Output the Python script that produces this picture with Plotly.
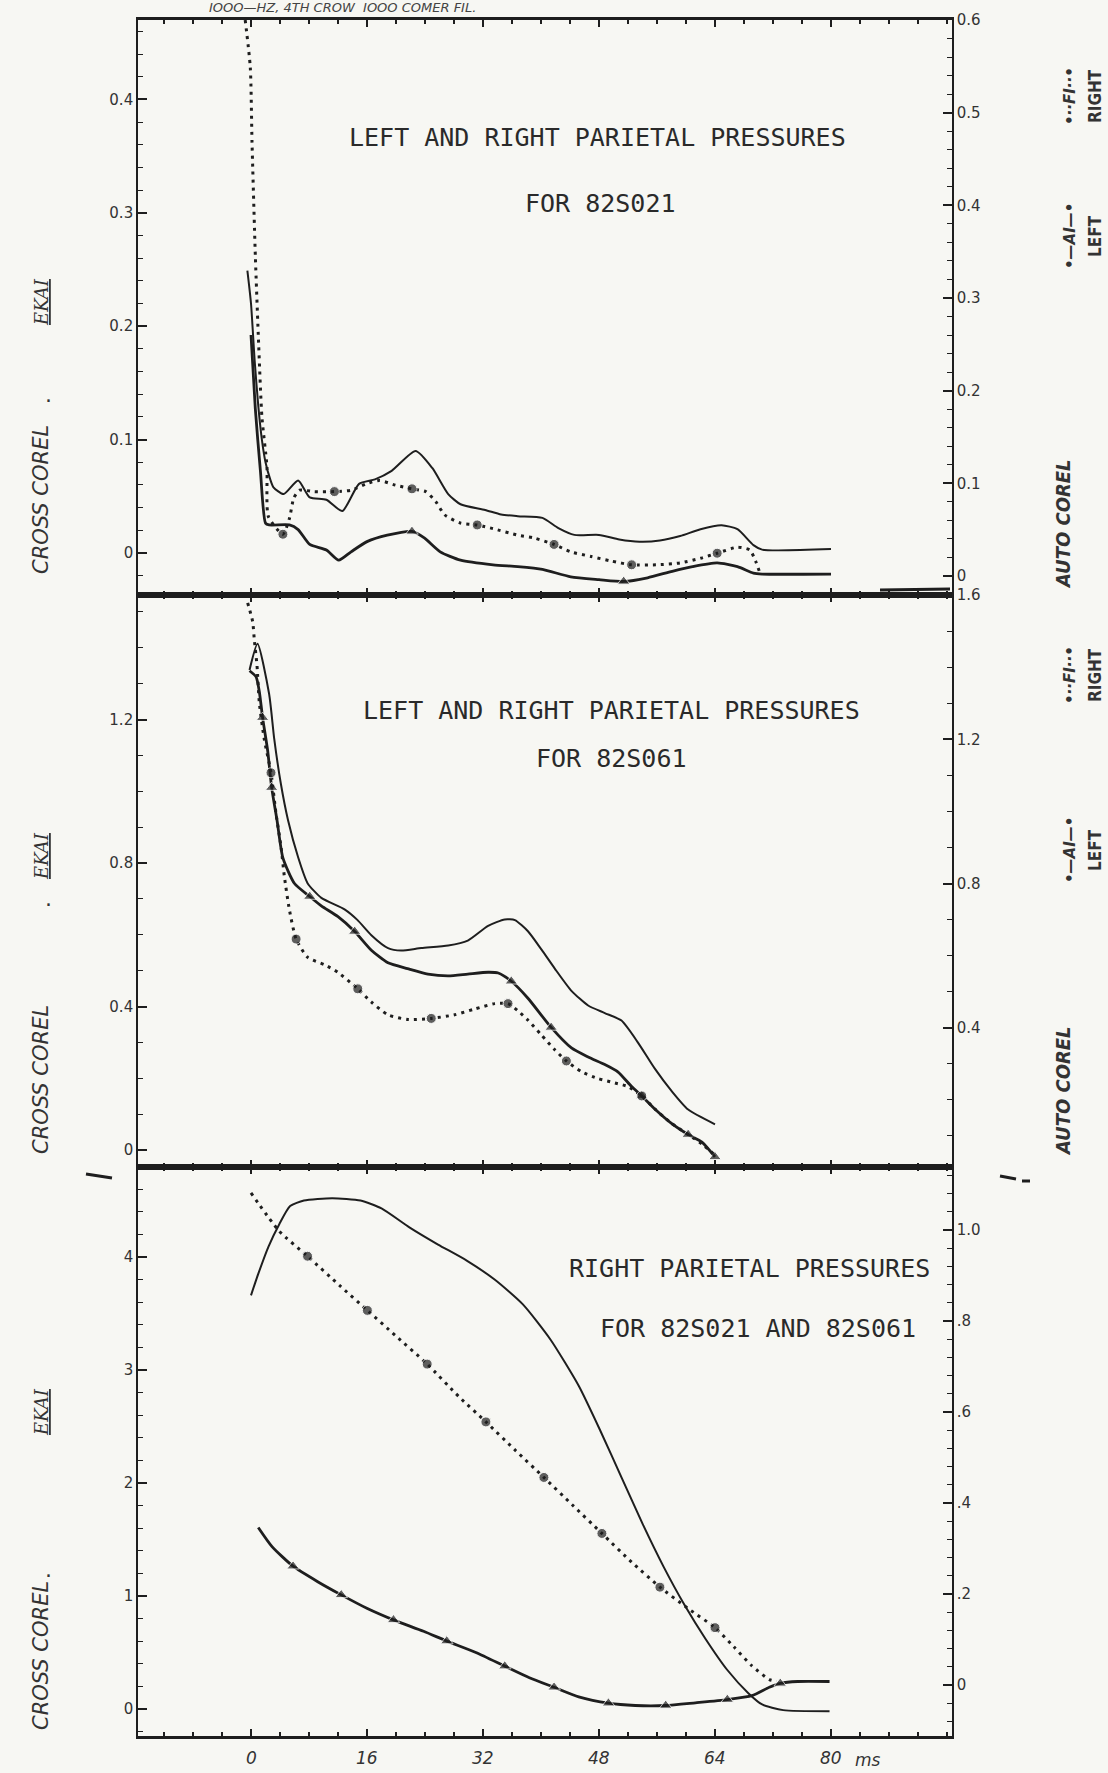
import plotly.graph_objects as go

# ---------------- data (time lag in ms) ----------------
# Panel 1 : 82S021
P1_CROSS_T = [-0.5, 0.0, 0.5, 1.0, 1.5, 2.0, 2.6, 3.1, 4.5, 6.5, 8.1, 10.4, 12.6, 14.9, 17.1, 19.4, 22.7, 25.0,
              27.2, 28.9, 32.3, 34.5, 36.8, 40.2, 42.4, 44.6, 48.0, 50.8, 53.6, 56.4, 59.2, 62.0, 64.9, 67.1,
              69.3, 70.5, 80.0]
P1_CROSS_V = [0.249, 0.22, 0.17, 0.13, 0.10, 0.08, 0.066, 0.058, 0.052, 0.064, 0.049, 0.047, 0.037, 0.061, 0.065,
              0.0725, 0.090, 0.075, 0.052, 0.043, 0.038, 0.034, 0.0325, 0.031, 0.022, 0.016, 0.016, 0.012, 0.010,
              0.011, 0.015, 0.021, 0.0245, 0.021, 0.007, 0.003, 0.0035]
P1_LEFT_T = [0.0, 0.6, 1.3, 2.0, 2.5, 5.3, 6.5, 8.1, 10.4, 12.1, 13.8, 16.0, 18.8, 22.2, 23.9, 26.1, 28.9, 33.4,
             36.8, 40.2, 44.1, 48.0, 51.4, 54.7, 58.1, 60.9, 64.3, 67.1, 69.3, 70.5, 80.0]
P1_LEFT_V = [0.26, 0.18, 0.113, 0.057, 0.055, 0.055, 0.050, 0.034, 0.028, 0.017, 0.026, 0.037, 0.044, 0.048, 0.041,
             0.026, 0.017, 0.012, 0.010, 0.007, -0.001, -0.004, -0.006, -0.002, 0.005, 0.010, 0.014, 0.010, 0.003,
             0.002, 0.002]
P1_RIGHT_T = [-0.8, -0.1, 0.14, 0.6, 1.06, 1.5, 2.2, 2.4, 4.4, 5.3, 5.9, 6.7, 8.7, 11.5, 13.8, 16.0, 17.7, 19.9,
              22.2, 24.1, 25.5, 26.7, 28.9, 31.2, 33.4, 36.8, 39.0, 41.8, 44.1, 46.9, 49.7, 52.5, 55.9, 59.2, 62.0,
              64.3, 67.1, 68.8, 69.6, 70.2]
P1_RIGHT_V = [0.60, 0.549, 0.468, 0.345, 0.249, 0.172, 0.118, 0.064, 0.045, 0.062, 0.084, 0.0925, 0.091, 0.091,
              0.0925, 0.0997, 0.103, 0.098, 0.094, 0.091, 0.080, 0.066, 0.057, 0.055, 0.051, 0.044, 0.041, 0.034,
              0.026, 0.021, 0.016, 0.012, 0.012, 0.014, 0.019, 0.0245, 0.031, 0.028, 0.016, 0.003]

# Panel 2 : 82S061
P2_CROSS_T = [-0.2, 0.9, 2.5, 3.2, 4.1, 5.1, 6.5, 7.8, 9.7, 12.9, 14.7, 16.6, 18.9, 20.7, 23.5, 27.2, 29.9, 32.7,
              35.0, 36.4, 38.2, 40.1, 41.9, 44.2, 46.5, 48.8, 51.1, 53.4, 55.7, 58.0, 60.3, 64.0]
P2_CROSS_V = [1.338, 1.411, 1.271, 1.147, 1.023, 0.920, 0.816, 0.744, 0.703, 0.671, 0.641, 0.599, 0.563, 0.556,
              0.563, 0.570, 0.584, 0.625, 0.643, 0.641, 0.610, 0.558, 0.506, 0.444, 0.403, 0.382, 0.361, 0.299,
              0.227, 0.165, 0.113, 0.072]
P2_LEFT_T = [-0.2, 0.7, 1.15, 1.6, 2.3, 2.85, 3.6, 4.4, 6.0, 8.1, 9.7, 12.0, 14.3, 16.6, 18.9, 21.6, 24.4, 27.2,
             29.9, 32.7, 34.1, 35.9, 38.2, 41.4, 44.2, 46.5, 48.8, 50.6, 52.5, 53.9, 55.7, 58.0, 60.3, 62.2, 64.0]
P2_LEFT_V = [1.39, 1.373, 1.332, 1.260, 1.168, 1.066, 0.974, 0.871, 0.800, 0.764, 0.738, 0.708, 0.667, 0.615,
             0.580, 0.564, 0.549, 0.544, 0.549, 0.554, 0.552, 0.529, 0.482, 0.401, 0.344, 0.319, 0.298, 0.278,
             0.237, 0.211, 0.175, 0.135, 0.104, 0.083, 0.042]
P2_RIGHT_T = [-0.46, 0.23, 0.46, 0.83, 1.15, 1.84, 2.76, 3.45, 4.14, 4.6, 5.29, 6.22, 7.83, 10.13, 11.97, 14.73,
              16.57, 18.88, 21.64, 24.86, 28.08, 30.85, 33.61, 35.45, 36.83, 38.21, 40.06, 41.9, 43.5, 45.6, 47.9,
              50.2, 52.0, 53.9, 55.7, 58.0, 60.3, 62.2, 64.0]
P2_RIGHT_V = [1.578, 1.526, 1.475, 1.404, 1.301, 1.199, 1.107, 0.994, 0.902, 0.820, 0.728, 0.646, 0.595, 0.575,
              0.554, 0.508, 0.472, 0.436, 0.423, 0.426, 0.436, 0.452, 0.467, 0.467, 0.447, 0.421, 0.380, 0.339,
              0.308, 0.278, 0.259, 0.247, 0.237, 0.211, 0.175, 0.135, 0.104, 0.078, 0.047]

# Panel 3 : right parietal, 82S021 and 82S061
P3_CROSS_T = [0.0, 1.0, 2.4, 3.9, 5.4, 7.3, 11.2, 15.1, 18.0, 21.9, 25.8, 29.7, 33.6, 37.5, 41.3, 45.2, 48.2,
              51.1, 54.0, 56.9, 59.8, 62.7, 65.7, 68.6, 70.5, 73.4, 79.8]
P3_CROSS_V = [3.66, 3.85, 4.09, 4.29, 4.45, 4.50, 4.52, 4.50, 4.43, 4.26, 4.11, 3.97, 3.80, 3.58, 3.27, 2.86,
              2.46, 2.05, 1.64, 1.26, 0.92, 0.62, 0.345, 0.14, 0.04, -0.01, -0.02]
P3_DOT_T = [0.0, 3.9, 7.8, 12.2, 16.05, 19.9, 24.3, 28.7, 32.4, 36.5, 40.4, 44.3, 48.4, 52.5, 56.4, 60.3, 64.0,
            66.6, 69.1, 71.5, 72.5]
P3_DOT_V = [1.081, 0.997, 0.942, 0.878, 0.823, 0.768, 0.705, 0.633, 0.578, 0.515, 0.456, 0.396, 0.333, 0.270,
            0.215, 0.168, 0.126, 0.084, 0.042, 0.012, 0.008]
P3_TRI_T = [1.0, 2.9, 5.8, 9.2, 12.45, 16.05, 19.65, 23.8, 27.0, 31.1, 35.0, 38.4, 41.8, 45.2, 49.3, 53.0, 57.2,
            61.3, 65.7, 69.1, 71.5, 73.0, 75.4, 79.8]
P3_TRI_V = [0.346, 0.304, 0.261, 0.227, 0.198, 0.168, 0.143, 0.118, 0.0965, 0.071, 0.0415, 0.016, -0.005, -0.026,
            -0.040, -0.045, -0.045, -0.039, -0.032, -0.0235, -0.005, 0.0035, 0.0077, 0.0077]

X_TICKS = [0, 16, 32, 48, 64, 80]
X_TICK_TEXT = ["0", "16", "32", "48", "64", "80"]

P1_LEFT_TICKS = [0, 0.1, 0.2, 0.3, 0.4]
P1_LEFT_TEXT = ["0", "0.1", "0.2", "0.3", "0.4"]
P1_RIGHT_TICKS = [0, 0.1, 0.2, 0.3, 0.4, 0.5, 0.6]
P1_RIGHT_TEXT = ["0", "0.1", "0.2", "0.3", "0.4", "0.5", "0.6"]
P2_LEFT_TICKS = [0, 0.4, 0.8, 1.2]
P2_LEFT_TEXT = ["0", "0.4", "0.8", "1.2"]
P2_RIGHT_TICKS = [0.4, 0.8, 1.2, 1.6]
P2_RIGHT_TEXT = ["0.4", "0.8", "1.2", "1.6"]
P3_LEFT_TICKS = [0, 1, 2, 3, 4]
P3_LEFT_TEXT = ["0", "1", "2", "3", "4"]
P3_RIGHT_TICKS = [0, 0.2, 0.4, 0.6, 0.8, 1.0]
P3_RIGHT_TEXT = ["0", ".2", ".4", ".6", ".8", "1.0"]

# ---------------- styling / layout ----------------
W, H = 1108, 1773
ML, MR, MT, MB = 138, 156, 20, 37
PW, PH = W - ML - MR, H - MT - MB
INK = "#1e1e1e"
BG = "#f7f7f3"
X0PX, PXPERMS = 251, 7.25


def py(ypx):
    return (H - MB - ypx) / PH


def px(xpx):
    return (xpx - ML) / PW


fig = go.Figure()


def add(t, v, xa, ya, kind, marks=()):
    n = len(t)
    if kind == "plain":
        fig.add_trace(go.Scatter(x=t, y=v, xaxis=xa, yaxis=ya, mode="lines",
                                 line=dict(color=INK, width=2.0, shape="spline", smoothing=0.6),
                                 showlegend=False, hoverinfo="skip"))
    elif kind == "tri":
        fig.add_trace(go.Scatter(x=t, y=v, xaxis=xa, yaxis=ya, mode="lines+markers",
                                 line=dict(color=INK, width=2.8, shape="spline", smoothing=0.6),
                                 marker=dict(symbol="triangle-up", color=INK,
                                             size=[11 if i in marks else 0 for i in range(n)]),
                                 showlegend=False, hoverinfo="skip"))
    else:
        fig.add_trace(go.Scatter(x=t, y=v, xaxis=xa, yaxis=ya, mode="lines+markers",
                                 line=dict(color=INK, width=3.0, dash="3px,5px", shape="spline", smoothing=0.6),
                                 marker=dict(symbol="circle", color=INK,
                                             size=[10 if i in marks else 0 for i in range(n)]),
                                 showlegend=False, hoverinfo="skip"))


add(P1_CROSS_T, P1_CROSS_V, "x", "y", "plain")
add(P1_LEFT_T, P1_LEFT_V, "x", "y2", "tri", marks=(13, 22))
add(P1_RIGHT_T, P1_RIGHT_V, "x", "y2", "dot", marks=(8, 13, 18, 23, 27, 31, 35))

add(P2_CROSS_T, P2_CROSS_V, "x2", "y3", "plain")
add(P2_LEFT_T, P2_LEFT_V, "x2", "y4", "tri", marks=(3, 5, 9, 12, 21, 23, 29, 32, 34))
add(P2_RIGHT_T, P2_RIGHT_V, "x2", "y4", "dot", marks=(6, 11, 15, 19, 23, 28, 33))

add(P3_CROSS_T, P3_CROSS_V, "x3", "y5", "plain")
add(P3_DOT_T, P3_DOT_V, "x3", "y6", "dot", marks=(2, 4, 6, 8, 10, 12, 14, 16))
add(P3_TRI_T, P3_TRI_V, "x3", "y6", "tri", marks=(2, 4, 6, 8, 10, 12, 14, 16, 18, 21))

XR = [(ML - X0PX) / PXPERMS, (W - MR - X0PX) / PXPERMS]

xbase = dict(range=XR, showline=True, linewidth=3, linecolor=INK, mirror="ticks",
             ticks="inside", ticklen=7, tickwidth=1.5, tickcolor=INK,
             tickvals=X_TICKS, showticklabels=False, showgrid=False, zeroline=False,
             minor=dict(tickvals=list(range(-12, 97, 4)), ticks="inside", ticklen=4,
                        tickwidth=1.5, tickcolor=INK))

tickfont = dict(family="DejaVu Sans", size=15, color="#333")


def yax(rng, vals, text, minor, side, dom=None, overlay=None, anchor="x"):
    d = dict(range=rng, tickvals=vals, ticktext=text, side=side, anchor=anchor,
             showline=True, linewidth=1.6, linecolor=INK, ticks="inside", ticklen=9,
             tickwidth=1.5, tickcolor=INK, showgrid=False, zeroline=False, tickfont=tickfont,
             minor=dict(dtick=minor, tick0=0, ticks="inside", ticklen=5, tickwidth=1.3, tickcolor=INK))
    if dom is not None:
        d["domain"] = dom
    if overlay is not None:
        d["overlaying"] = overlay
    return d


D1 = [py(595), 1.0]
D2 = [py(1167), py(595)]
D3 = [0.0, py(1167)]

fig.update_layout(
    width=W, height=H,
    margin=dict(l=ML, r=MR, t=MT, b=MB),
    paper_bgcolor=BG, plot_bgcolor=BG,
    xaxis=dict(xbase, anchor="y", domain=[0, 1]),
    xaxis2=dict(xbase, anchor="y3", domain=[0, 1]),
    xaxis3=dict(xbase, anchor="y5", domain=[0, 1]),
    yaxis=yax([-0.037, 0.47], P1_LEFT_TICKS, P1_LEFT_TEXT, 0.02, "left", dom=D1, anchor="x"),
    yaxis2=yax([-0.0206, 0.6], P1_RIGHT_TICKS, P1_RIGHT_TEXT, 0.02, "right", overlay="y", anchor="x"),
    yaxis3=yax([-0.047, 1.547], P2_LEFT_TICKS, P2_LEFT_TEXT, 0.1, "left", dom=D2, anchor="x2"),
    yaxis4=yax([0.014, 1.6], P2_RIGHT_TICKS, P2_RIGHT_TEXT, 0.1, "right", overlay="y3", anchor="x2"),
    yaxis5=yax([-0.239, 4.796], P3_LEFT_TICKS, P3_LEFT_TEXT, 0.2, "left", dom=D3, anchor="x3"),
    yaxis6=yax([-0.112, 1.138], P3_RIGHT_TICKS, P3_RIGHT_TEXT, 0.04, "right", overlay="y5", anchor="x3"),
    showlegend=False,
)

ann = []
mono = dict(family="DejaVu Sans Mono", size=25, color="#2a2a2a")


def note(text, xpx, ypx, font, angle=0, **kw):
    d = dict(text=text, x=px(xpx), y=py(ypx), xref="paper", yref="paper", showarrow=False,
             font=font, textangle=angle, xanchor="center", yanchor="middle")
    d.update(kw)
    ann.append(d)


note("LEFT AND RIGHT PARIETAL PRESSURES", 597, 138, mono)
note("FOR 82S021", 600, 203, mono)
note("LEFT AND RIGHT PARIETAL PRESSURES", 611, 710, mono)
note("FOR 82S061", 611, 758, mono)
note("RIGHT PARIETAL PRESSURES", 749, 1268, mono)
note("FOR 82S021 AND 82S061", 758, 1328, mono)

lab = dict(family="DejaVu Sans", size=21, color="#333", style="italic")
ek = dict(family="DejaVu Serif", size=18, color="#333", style="italic")
for yc, ye, yd in [(500, 302, 400), (1080, 856, 904), (1656, 1412, 1575)]:
    note("CROSS COREL", 41, yc, lab, angle=-90)
    note("<u>EKAI</u>", 41, ye, ek, angle=-90)
    note("·", 48, yd, dict(family="DejaVu Sans", size=22, color="#333"))

rl = dict(family="DejaVu Sans Condensed", size=20, color="#333", style="italic", weight="bold")
lr = dict(family="DejaVu Sans Condensed", size=17, color="#333", weight="bold")
sym = dict(family="DejaVu Sans", size=15, color="#333", weight="bold", style="italic")
for ya, yl, yr in [(524, 236, 96), (1091, 850, 675)]:
    note("AUTO COREL", 1063, ya, rl, angle=-90)
    note("•—AI—•", 1070, yl, sym, angle=-90)
    note("LEFT", 1095, yl, lr, angle=-90)
    note("•··FI··•", 1070, yr, sym, angle=-90)
    note("RIGHT", 1095, yr, lr, angle=-90)

xl = dict(family="DejaVu Sans", size=17, color="#333", style="italic")
for tv, tt in zip(X_TICKS, X_TICK_TEXT):
    ann.append(dict(text=tt, x=tv, y=py(1758), xref="x3", yref="paper", showarrow=False,
                    font=xl, xanchor="center", yanchor="middle"))
note("ms", 868, 1760, xl)

note("IOOO—HZ, 4TH CROW  IOOO COMER FIL.", 342, 8,
     dict(family="DejaVu Sans", size=13, color="#444", style="italic"))

fig.update_layout(annotations=ann)

shapes = []
for (x0, y0, x1, y1) in [(86, 1174, 112, 1178), (1000, 1176, 1016, 1179), (1022, 1181, 1030, 1181),
                         (880, 590, 950, 589)]:
    shapes.append(dict(type="line", xref="paper", yref="paper", x0=px(x0), y0=py(y0), x1=px(x1), y1=py(y1),
                       line=dict(color=INK, width=3)))
fig.update_layout(shapes=shapes)

fig.write_html("out.html", config={"displayModeBar": False},
               post_script="document.body.style.margin='0px';document.body.style.overflow='hidden';")
